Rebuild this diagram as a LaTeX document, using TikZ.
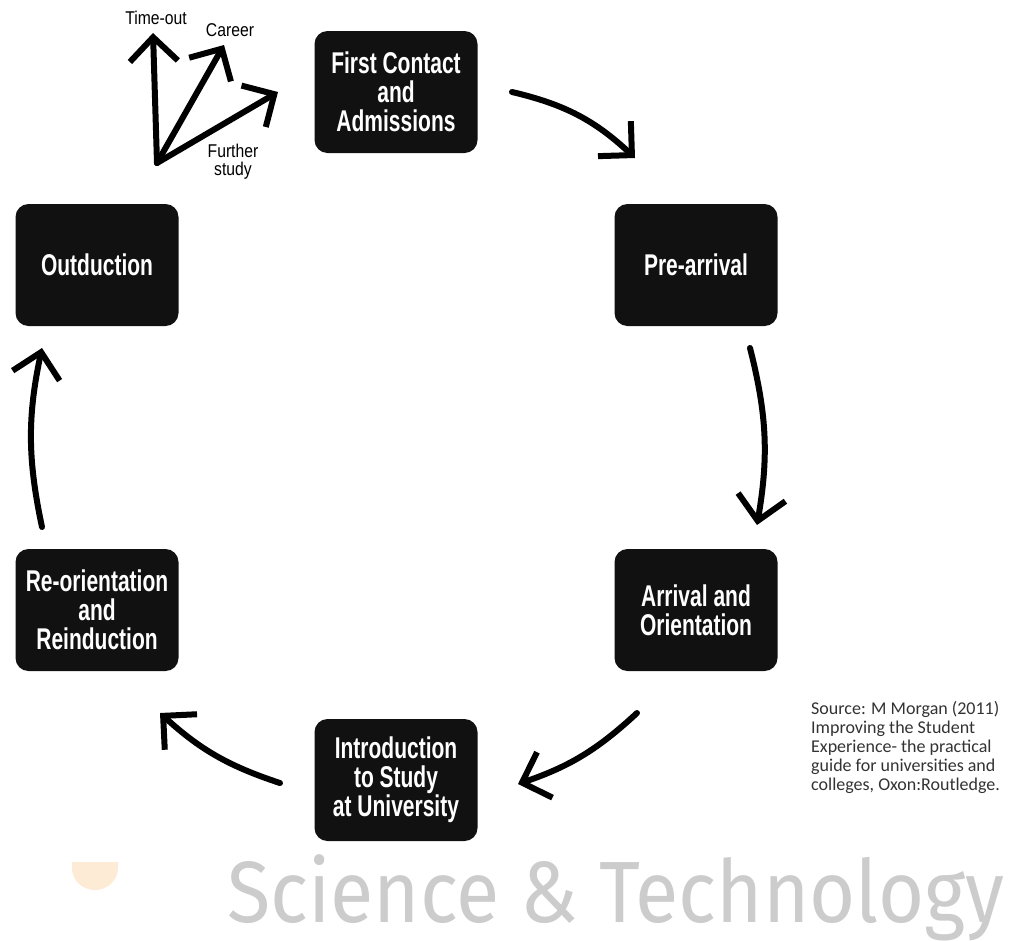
\documentclass[tikz,border=0pt]{standalone}
\usepackage{fontspec}
\usetikzlibrary{arrows.meta}
\newfontfamily\boxfont{Liberation Sans}[FakeStretch=0.7]
\newfontfamily\lblfont{Liberation Sans}[FakeStretch=0.85]
\newfontfamily\srcfont{Carlito}
\newfontfamily\wmfont{Fira Sans}[FakeStretch=0.91]
\definecolor{peach}{HTML}{FDEBD5}
\definecolor{boxblack}{HTML}{111111}
\begin{document}
\begin{tikzpicture}[x=1pt,y=1pt,
  stage/.style={fill=boxblack, rounded corners=13pt, minimum width=163pt, minimum height=122pt,
    text=white, align=center, inner sep=0pt, font=\boxfont\bfseries\fontsize{30}{29}\selectfont},
  flow/.style={line width=6pt, line cap=round, -{Straight Barb[length=24pt,width=48pt,line width=6pt]}},
  lbl/.style={font=\lblfont\fontsize{18.5}{18}\selectfont, align=center, inner sep=0pt},
  src/.style={font=\srcfont\fontsize{18}{19}\selectfont, align=left, text=black!80, inner sep=0pt}]
\useasboundingbox (0,0) rectangle (1011,-940);
\fill[white] (0,0) rectangle (1011,-940);

\node[stage] (first) at (396,-92) {First Contact\\and\\Admissions};
\node[stage] (pre) at (696,-265) {Pre-arrival};
\node[stage] (arr) at (696,-610) {Arrival and\\Orientation};
\node[stage] (intro) at (396,-780) {Introduction\\to Study\\at University};
\node[stage] (reor) at (97,-610) {Re-orientation\\and\\Reinduction};
\node[stage] (out) at (97,-265) {Outduction};

\coordinate (a1s) at (512,-92);  \coordinate (a1e) at (635,-158);
\coordinate (a2s) at (750,-348); \coordinate (a2e) at (757,-525);
\coordinate (a3s) at (637,-713); \coordinate (a3e) at (518,-784);
\coordinate (a4s) at (280,-783); \coordinate (a4e) at (160,-713);
\coordinate (a5s) at (42,-527);  \coordinate (a5e) at (42,-348);
\draw[flow] (a1s) to[bend left=15] (a1e);
\draw[flow] (a2s) to[bend left=12] (a2e);
\draw[flow] (a3s) to[bend left=12] (a3e);
\draw[flow] (a4s) to[bend left=12] (a4e);
\draw[flow] (a5s) to[bend left=12] (a5e);

\coordinate (o) at (157,-163);
\coordinate (tt) at (153,-33);
\coordinate (tc) at (224,-45);
\coordinate (tf) at (278,-92);
\draw[flow] (o) -- (tt);
\draw[flow] (o) -- (tc);
\draw[flow] (o) -- (tf);

\node[lbl] (lt) at (156,-18) {Time-out};
\node[lbl] (lc) at (230,-30) {Career};
\node[lbl] (lf) at (233,-162) {Further\\study};

\node[src, anchor=north west] (source) at (811,-701) {Source: M Morgan (2011)\\Improving the Student\\Experience- the practical\\guide for universities and\\colleges, Oxon:Routledge.};

\fill[peach] (72,-862) -- (72,-868) arc[start angle=180, end angle=360, x radius=23, y radius=22] -- (118,-862) -- cycle;
\node[anchor=base west, inner sep=0pt, text=black!20, font=\wmfont\fontsize{87}{87}\selectfont] (wm) at (227,-922) {Science \& Technology};
\end{tikzpicture}
\end{document}
